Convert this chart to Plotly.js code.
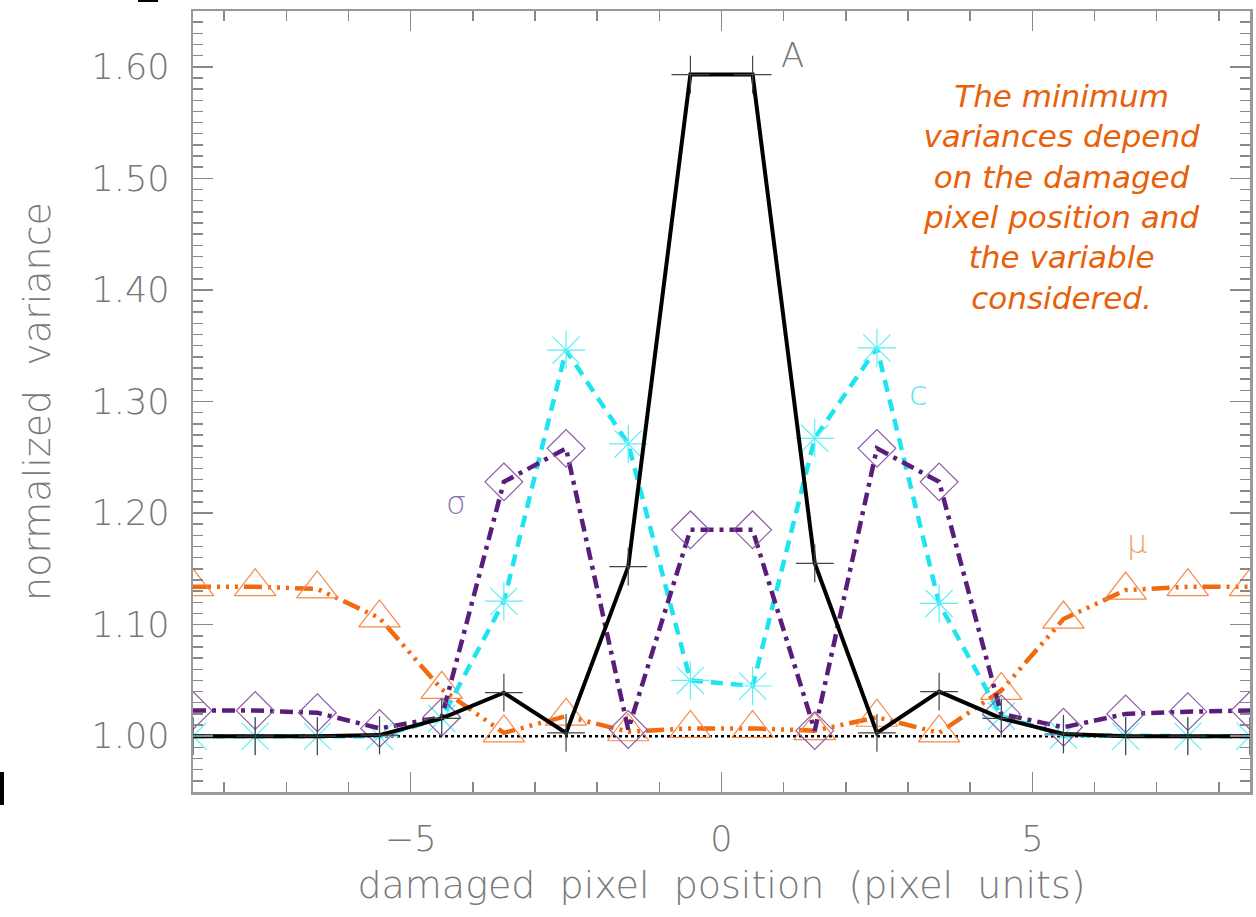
<!DOCTYPE html>
<html>
<head>
<meta charset="utf-8">
<script src="https://cdn.plot.ly/plotly-3.0.1.min.js"></script>
<style>
html,body{margin:0;padding:0;background:#fff;}
#chart{width:1256px;height:917px;}
</style>
</head>
<body>
<div id="chart"></div>
<script>
// pixel positions (x) of the damaged pixel
var positions = [-8.5,-7.5,-6.5,-5.5,-4.5,-3.5,-2.5,-1.5,-0.5,0.5,1.5,2.5,3.5,4.5,5.5,6.5,7.5,8.5];
// normalized variance of A (amplitude)
var varA     = [1.000,1.000,1.000,1.001,1.016,1.039,1.003,1.152,1.593,1.593,1.155,1.003,1.040,1.016,1.002,1.000,1.000,1.000];
// normalized variance of c (offset)
var varC     = [1.000,1.000,1.000,1.000,1.016,1.121,1.346,1.262,1.050,1.045,1.267,1.348,1.119,1.018,1.001,1.000,1.000,1.000];
// normalized variance of sigma (width)
var varSigma = [1.023,1.023,1.021,1.007,1.017,1.228,1.258,1.006,1.185,1.185,1.005,1.258,1.228,1.020,1.008,1.020,1.022,1.023];
// normalized variance of mu (position)
var varMu    = [1.134,1.134,1.132,1.106,1.042,1.003,1.018,1.004,1.007,1.007,1.005,1.017,1.003,1.041,1.105,1.131,1.134,1.134];
// reference level
var refLevel = [1.000,1.000];
var refX = [-8.5, 8.5];

var seriesLabels = ["A","c","\u03c3","\u03bc"];
var noteText = "The minimum<br>variances depend<br>on the damaged<br>pixel position and<br>the variable<br>considered.";
var xTitle = "damaged\u00a0 pixel\u00a0 position\u00a0 (pixel\u00a0 units)";
var yTitle = "normalized\u00a0 variance";

var tickFont = {family:"DejaVu Sans, Liberation Sans, sans-serif", size:35, color:"#777777", weight:200};
var titleFont = {family:"DejaVu Sans, Liberation Sans, sans-serif", size:38, color:"#7a7a7a", weight:200};

var traces = [
  {x:refX, y:refLevel, mode:"lines", line:{color:"#000000", width:2.5, dash:"dot"}, hoverinfo:"skip"},
  {x:positions, y:varMu, mode:"lines+markers",
   line:{color:"#f26a0f", width:4.5, dash:"18px,6px,3px,6px,3px,6px,3px,6px"},
   marker:{symbol:"triangle-up-open", size:36, color:"#f5884a", line:{width:1.2, color:"#f5884a"}}},
  {x:positions, y:varC, mode:"lines+markers",
   line:{color:"#1de4ef", width:4.5, dash:"12px,8px"},
   marker:{symbol:"asterisk-open", size:32, color:"#5cf0f6", line:{width:1.2, color:"#5cf0f6"}}},
  {x:positions, y:varSigma, mode:"lines+markers",
   line:{color:"#5a1e7a", width:4.5, dash:"13px,6px,4px,6px"},
   marker:{symbol:"diamond-open", size:29, color:"#8e5aa6", line:{width:1.2, color:"#8e5aa6"}}},
  {x:positions, y:varA, mode:"lines+markers",
   line:{color:"#000000", width:4},
   marker:{symbol:"cross-thin-open", size:27, color:"#444444", line:{width:1.2, color:"#444444"}}}
];

var layout = {
  width:1256, height:917,
  margin:{l:193, r:6, t:11, b:125},
  paper_bgcolor:"#ffffff", plot_bgcolor:"#ffffff",
  showlegend:false,
  xaxis:{
    range:[-8.5,8.5], tickvals:[-5,0,5], ticktext:["\u22125","0","5"],
    ticks:"inside", ticklen:20, tickwidth:1.5, tickcolor:"#888888",
    minor:{dtick:1, tick0:0, ticks:"inside", ticklen:10, tickwidth:1.5, tickcolor:"#888888"},
    showline:true, linecolor:"#999999", linewidth:2.5, mirror:"allticks",
    showgrid:false, zeroline:false,
    tickfont:tickFont, ticklabelstandoff:14,
    title:{text:xTitle, font:titleFont, standoff:14}
  },
  yaxis:{
    range:[0.95,1.65], tickvals:[1.0,1.1,1.2,1.3,1.4,1.5,1.6],
    ticktext:["1.00","1.10","1.20","1.30","1.40","1.50","1.60"],
    ticks:"inside", ticklen:20, tickwidth:1.5, tickcolor:"#888888",
    minor:{dtick:0.01, tick0:0, ticks:"inside", ticklen:10, tickwidth:1.5, tickcolor:"#888888"},
    showline:true, linecolor:"#999999", linewidth:2.5, mirror:"allticks",
    showgrid:false, zeroline:false,
    tickfont:tickFont, ticklabelstandoff:14,
    title:{text:yTitle, font:titleFont, standoff:30}
  },
  annotations:[
    {x:1.14, y:1.611, xref:"x", yref:"y", text:seriesLabels[0], showarrow:false,
     font:{family:"DejaVu Sans, sans-serif", size:34, color:"#777777", weight:200}},
    {x:3.17, y:1.308, xref:"x", yref:"y", text:seriesLabels[1], showarrow:false,
     font:{family:"DejaVu Sans, sans-serif", size:34, color:"#55e6ef", weight:200}},
    {x:-4.27, y:1.209, xref:"x", yref:"y", text:seriesLabels[2], showarrow:false,
     font:{family:"DejaVu Sans, sans-serif", size:32, color:"#9270b0", weight:200}},
    {x:6.68, y:1.174, xref:"x", yref:"y", text:seriesLabels[3], showarrow:false,
     font:{family:"DejaVu Sans, sans-serif", size:32, color:"#f2a06e", weight:200}},
    {x:5.47, y:1.483, xref:"x", yref:"y", text:noteText, showarrow:false, align:"center",
     xanchor:"center", yanchor:"middle",
     font:{family:"DejaVu Sans, Verdana, sans-serif", size:31, color:"#e8600a", style:"italic"}}
  ],
  shapes:[
    {type:"rect", xref:"paper", yref:"paper", x0:-0.052, x1:-0.033, y0:1.0115, y1:1.016,
     fillcolor:"#000000", line:{width:0}},
    {type:"rect", xref:"paper", yref:"paper", x0:-0.1826, x1:-0.1788, y0:-0.0166, y1:0.0256,
     fillcolor:"#000000", line:{width:0}}
  ]
};

Plotly.newPlot("chart", traces, layout, {displayModeBar:false, staticPlot:true});
</script>
</body>
</html>
